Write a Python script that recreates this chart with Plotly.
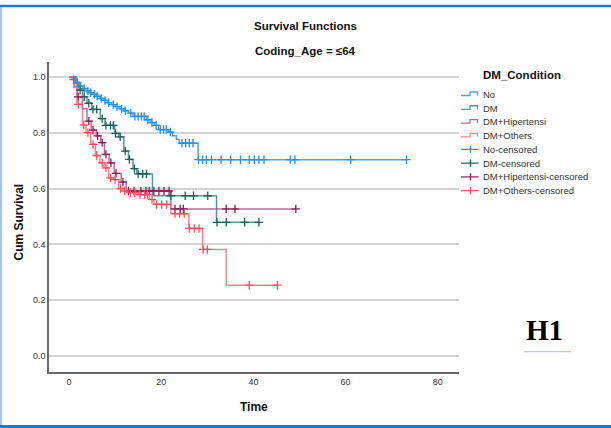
import numpy as np
import plotly.graph_objects as go

# ---------------- data ----------------
groups = ["No", "DM", "DM+Hipertensi", "DM+Others"]

no_time = [0.7, 1.5, 2.2, 3.0, 3.8, 4.5, 5.2, 5.9, 6.7, 7.5, 8.3, 9.2, 10.1, 11.0, 11.9,
           12.9, 13.9, 16.8, 17.6, 18.5, 19.4, 21.6, 22.4, 23.3, 23.9, 28.0]
no_surv = [0.99, 0.98, 0.966, 0.957, 0.949, 0.943, 0.937, 0.930, 0.922, 0.915, 0.907, 0.900,
           0.893, 0.885, 0.878, 0.870, 0.858, 0.846, 0.836, 0.826, 0.811, 0.802, 0.789, 0.776,
           0.762, 0.703]
no_cens = [1.0, 1.8, 2.5, 3.3, 4.1, 4.7, 5.5, 6.1, 7.0, 7.8, 8.6, 9.6, 10.4, 11.4, 12.2, 13.4,
           14.3, 15.0, 15.7, 16.3, 17.1, 18.0, 18.9, 19.8, 20.5, 21.1, 22.0, 24.5, 25.3, 26.1,
           26.9, 28.1, 29.0, 29.8, 30.9, 33.0, 35.1, 37.2, 39.1, 40.2, 41.2, 42.3, 48.0, 49.0,
           61.1, 73.2]

dm_time = [1.5, 2.1, 2.9, 3.9, 4.9, 6.8, 7.8, 9.9, 10.8, 11.9, 12.9, 13.9, 14.7, 18.1, 32.0]
dm_surv = [0.976, 0.952, 0.928, 0.905, 0.883, 0.850, 0.826, 0.797, 0.785, 0.734, 0.704, 0.671,
           0.652, 0.574, 0.479]
dm_cens = [2.4, 3.3, 4.3, 5.2, 6.0, 7.2, 8.0, 9.0, 9.6, 10.1, 11.1, 12.2, 13.1, 14.2, 15.0,
           16.0, 16.8, 22.1, 25.2, 27.0, 30.1, 32.1, 34.1, 38.1, 41.2]

hp_time = [1.2, 1.8, 2.9, 3.9, 4.8, 5.9, 6.9, 7.7, 8.7, 9.8, 11.3, 12.4, 22.1]
hp_surv = [0.965, 0.928, 0.885, 0.841, 0.809, 0.788, 0.764, 0.722, 0.692, 0.654, 0.623, 0.591,
           0.527]
hp_cens = [2.0, 4.3, 5.2, 6.2, 7.2, 8.0, 9.1, 10.2, 11.7, 12.9, 14.1, 15.6, 16.7, 17.4, 18.4,
           19.5, 20.6, 21.7, 23.0, 24.1, 24.8, 34.1, 36.0, 49.2]

ot_time = [1.0, 1.7, 2.9, 3.7, 4.7, 5.7, 6.7, 7.6, 8.6, 9.7, 10.8, 11.8, 13.0, 15.0, 17.4,
           18.4, 22.1, 26.0, 29.0, 34.1]
ot_surv = [0.962, 0.901, 0.827, 0.800, 0.758, 0.718, 0.692, 0.674, 0.638, 0.632, 0.600, 0.591,
           0.585, 0.578, 0.561, 0.543, 0.510, 0.457, 0.382, 0.254]
ot_cens = [2.0, 3.2, 4.1, 5.2, 6.0, 7.2, 8.0, 9.0, 10.0, 11.2, 12.1, 13.3, 14.3, 15.4, 16.4,
           17.0, 18.0, 19.0, 20.1, 21.2, 23.0, 24.0, 25.0, 26.1, 27.2, 28.2, 29.1, 30.0, 39.1,
           45.2]

x_ticks = [0, 20, 40, 60, 80]
y_ticks = [0.0, 0.2, 0.4, 0.6, 0.8, 1.0]
y_ticktext = ["0.0", "0.2", "0.4", "0.6", "0.8", "1.0"]
legend_labels = groups + [g + "-censored" for g in groups]

# ---------------- styling ----------------
line_colors = ["rgba(40,150,235,0.85)", "rgba(60,135,125,0.85)", "rgba(180,70,125,0.8)",
               "rgba(255,110,120,0.85)"]
mark_colors = ["#2a8fe0", "#1d5f57", "#8e1c50", "#ff4d5c"]

W, H = 611, 428
L, R, T, B = 49, 152, 62, 56
PW, PH = W - L - R, H - T - B
def px(x): return (x - L) / PW
def py(y): return (H - B - y) / PH

FONT = "Liberation Sans, Arial, sans-serif"

fig = go.Figure()
series = [(no_time, no_surv, no_cens), (dm_time, dm_surv, dm_cens),
          (hp_time, hp_surv, hp_cens), (ot_time, ot_surv, ot_cens)]

for i, (t, s, c) in enumerate(series):
    xs = [0.0] + t + [max(max(c), t[-1])]
    ys = [1.0] + s + [s[-1]]
    fig.add_trace(go.Scatter(x=xs, y=ys, mode="lines", name=groups[i],
                             line=dict(shape="hv", color=line_colors[i], width=1.5),
                             showlegend=False, hoverinfo="skip"))
for i, (t, s, c) in enumerate(series):
    idx = np.searchsorted(np.array(t), np.array(c), side="right")
    sv = np.concatenate([[1.0], np.array(s)])[idx]
    fig.add_trace(go.Scatter(x=c, y=sv, mode="markers", name=groups[i] + "-censored",
                             marker=dict(symbol="cross-thin", size=6,
                                         line=dict(color=mark_colors[i], width=1.3)),
                             showlegend=False, hoverinfo="skip"))

shapes = []
annotations = []

def note(x, y, text, size, color="#111", family=FONT, xanchor="center", angle=0):
    annotations.append(dict(x=px(x), y=py(y), xref="paper", yref="paper", text=text,
                            showarrow=False, textangle=angle,
                            font=dict(family=family, size=size, color=color),
                            xanchor=xanchor, yanchor="middle"))

# custom legend
note(522, 75, "<b>DM_Condition</b>", 11.5)
for k, lab in enumerate(legend_labels):
    yc = 94.3 + k * 13.77
    note(480.5, yc, lab, 9.5, color="#333", xanchor="left")
    if k < 4:
        col = line_colors[k]
        path = "M {:.4f},{:.4f} L {:.4f},{:.4f} L {:.4f},{:.4f} L {:.4f},{:.4f} L {:.4f},{:.4f}".format(
            px(461), py(yc + 1.2), px(470), py(yc + 1.2), px(470), py(yc - 2.3),
            px(477.5), py(yc - 2.3), px(477.5), py(yc + 1.2))
        shapes.append(dict(type="path", path=path, xref="paper", yref="paper",
                           line=dict(color=col, width=1.3)))
    else:
        col = mark_colors[k - 4]
        shapes.append(dict(type="line", xref="paper", yref="paper", x0=px(461), x1=px(478.5),
                           y0=py(yc), y1=py(yc), line=dict(color=col, width=1.2)))
        shapes.append(dict(type="line", xref="paper", yref="paper", x0=px(470.5), x1=px(470.5),
                           y0=py(yc - 3.6), y1=py(yc + 3.6), line=dict(color=col, width=1.4)))

# titles
note(305.5, 51, "<b>Coding_Age = ≤64</b>", 11.5)
note(18.5, 222, "<b>Cum Survival</b>", 12, angle=-90)
note(254, 406.5, "<b>Time</b>", 12)
note(544, 330, "<b>H1</b>", 29, color="#000", family="Liberation Serif, Times New Roman, serif")
shapes.append(dict(type="line", xref="paper", yref="paper", x0=px(524), x1=px(571),
                   y0=py(351.7), y1=py(351.7), line=dict(color="#b4c7e7", width=1.2)))

# page frame
shapes.append(dict(type="line", xref="paper", yref="paper", x0=px(0), x1=px(611),
                   y0=py(6), y1=py(6), line=dict(color="#1f77d0", width=2.5)))
shapes.append(dict(type="line", xref="paper", yref="paper", x0=px(0), x1=px(611),
                   y0=py(426.5), y1=py(426.5), line=dict(color="#1f77d0", width=3)))
shapes.append(dict(type="line", xref="paper", yref="paper", x0=px(1), x1=px(1),
                   y0=py(7), y1=py(425), line=dict(color="#9fc5ec", width=2)))

fig.update_layout(
    width=W, height=H,
    margin=dict(l=L, r=R, t=T, b=B),
    paper_bgcolor="white", plot_bgcolor="white",
    title=dict(text="<b>Survival Functions</b>", x=0.5, xref="container", xanchor="center",
               y=1 - 26 / H, yref="container", yanchor="middle",
               font=dict(family=FONT, size=11.5, color="#111")),
    xaxis=dict(range=[-4.34, 84.6], tickvals=x_ticks, showgrid=False, zeroline=False,
               showline=True, linecolor="#6b6b6b", linewidth=1.5, ticks="",
               tickfont=dict(family=FONT, size=9, color="#333")),
    yaxis=dict(range=[-0.0565, 1.0526], tickvals=y_ticks, ticktext=y_ticktext,
               showgrid=True, gridcolor="#d3d3d3", gridwidth=1.5, zeroline=False,
               showline=True, linecolor="#6b6b6b", linewidth=1.5, ticks="",
               tickfont=dict(family=FONT, size=9, color="#333")),
    shapes=shapes, annotations=annotations, showlegend=False,
)
fig.write_html("out.html")
